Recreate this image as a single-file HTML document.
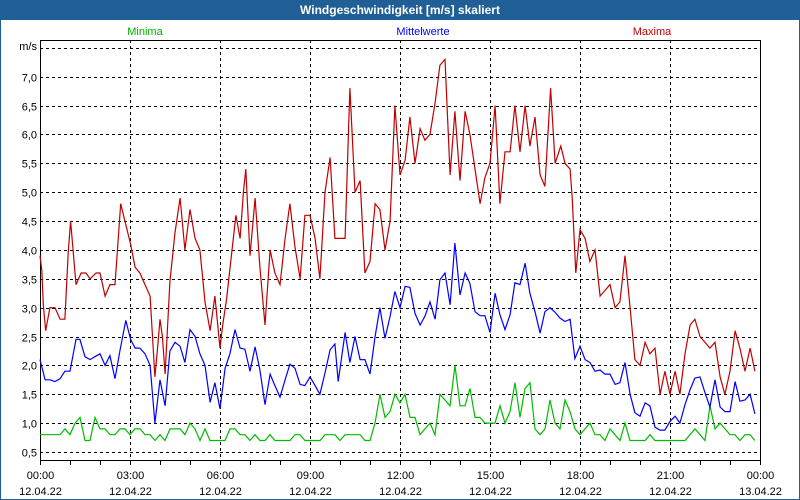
<!DOCTYPE html>
<html><head><meta charset="utf-8"><style>
html,body{margin:0;padding:0;width:800px;height:500px;overflow:hidden;background:#fff;font-family:"Liberation Sans",sans-serif}
#frame{position:absolute;left:0;top:0;width:798px;height:498px;border:1px solid #1f5f96;}
#title{position:absolute;left:0;top:0;width:800px;height:20px;background:#1f5f96;color:#fff;font-weight:bold;font-size:12px;text-align:center;line-height:20px}
svg{position:absolute;left:0;top:0}
svg text{font-family:"Liberation Sans",sans-serif;font-size:11px}
</style></head><body>
<div id="frame"></div>
<div id="title">Windgeschwindigkeit [m/s] skaliert</div>
<svg id="chart" width="800" height="500">
<text x="145" y="35" fill="#00b000" text-anchor="middle">Minima</text>
<text x="423" y="35" fill="#0000ff" text-anchor="middle">Mittelwerte</text>
<text x="652" y="35" fill="#c00000" text-anchor="middle">Maxima</text>
<text x="37" y="50" text-anchor="end" fill="#000">m/s</text>
</svg>
<script>
const yTicks=[0.5,1.0,1.5,2.0,2.5,3.0,3.5,4.0,4.5,5.0,5.5,6.0,6.5,7.0,7.5];
const yTickLabels=["0,5","1,0","1,5","2,0","2,5","3,0","3,5","4,0","4,5","5,0","5,5","6,0","6,5","7,0",""];
const xTickHours=[0,3,6,9,12,15,18,21,24];
const xTickLabels=["00:00","03:00","06:00","09:00","12:00","15:00","18:00","21:00","00:00"];
const xDateLabels=["12.04.22","12.04.22","12.04.22","12.04.22","12.04.22","12.04.22","12.04.22","12.04.22","13.04.22"];
const maxTimes=[0,0.06,0.11,0.19,0.33,0.5,0.67,0.83,0.94,1.02,1.11,1.2,1.37,1.53,1.67,1.87,2.0,2.17,2.33,2.5,2.69,2.83,3.02,3.17,3.33,3.5,3.67,3.83,3.91,4.0,4.08,4.17,4.24,4.33,4.5,4.67,4.83,5.0,5.17,5.33,5.5,5.67,5.83,6.0,6.09,6.22,6.39,6.53,6.67,6.78,6.86,7.0,7.17,7.33,7.5,7.67,7.83,8.0,8.17,8.33,8.5,8.67,8.83,9.0,9.17,9.33,9.5,9.67,9.83,10.17,10.28,10.33,10.5,10.67,10.83,11.0,11.17,11.33,11.5,11.67,11.83,12.0,12.17,12.33,12.5,12.67,12.83,13.0,13.17,13.33,13.5,13.67,13.83,14.0,14.17,14.33,14.5,14.67,14.83,15.0,15.17,15.33,15.5,15.67,15.83,16.0,16.17,16.33,16.5,16.67,16.83,17.02,17.17,17.36,17.5,17.67,17.74,17.86,18.0,18.17,18.33,18.5,18.67,19.0,19.17,19.33,19.5,19.67,19.83,20.0,20.17,20.33,20.5,20.67,20.83,21.0,21.17,21.33,21.5,21.67,21.83,22.0,22.33,22.5,22.67,22.83,23.0,23.17,23.33,23.5,23.67,23.83];
const maxValues=[3.9,3.65,3.05,2.6,3.0,3.0,2.8,2.8,3.95,4.5,3.95,3.4,3.6,3.6,3.5,3.6,3.6,3.2,3.4,3.4,4.8,4.5,4.1,3.7,3.6,3.4,3.2,1.8,2.25,2.8,2.5,1.85,2.55,3.45,4.3,4.9,4.0,4.7,4.2,4.0,3.1,2.6,3.2,2.3,2.7,3.15,3.95,4.6,4.2,5.0,5.4,3.9,4.9,3.7,2.7,4.0,3.6,3.4,4.2,4.8,4.05,3.5,4.6,4.6,4.2,3.5,5.0,5.6,4.2,4.2,6.0,6.8,5.0,5.2,3.6,3.8,4.8,4.7,4.0,4.5,6.5,5.3,5.55,6.3,5.5,6.1,5.9,6.0,6.55,7.2,7.3,5.3,6.4,5.2,6.4,6.0,5.4,4.8,5.25,5.5,6.5,4.8,5.7,5.7,6.5,5.7,6.5,5.8,6.3,5.3,5.1,6.8,5.5,5.8,5.5,5.4,4.9,3.6,4.35,4.2,3.8,4.0,3.2,3.4,3.0,3.1,3.9,3.0,2.1,2.0,2.4,2.2,2.3,1.5,1.9,1.5,1.9,1.5,2.2,2.7,2.8,2.5,2.3,2.4,1.8,1.5,1.9,2.6,2.3,1.9,2.3,1.9];
const meanTimes=[0,0.17,0.33,0.5,0.67,0.83,1.0,1.2,1.33,1.5,1.67,1.83,2.0,2.17,2.33,2.5,2.67,2.86,3.02,3.17,3.33,3.5,3.67,3.83,4.0,4.17,4.33,4.5,4.67,4.83,5.0,5.17,5.33,5.5,5.67,5.83,6.0,6.17,6.33,6.5,6.67,6.83,7.0,7.17,7.33,7.5,7.67,7.83,8.0,8.17,8.33,8.5,8.67,8.83,9.0,9.17,9.33,9.5,9.67,9.83,9.94,10.17,10.33,10.5,10.67,10.83,11.0,11.17,11.33,11.5,11.67,11.83,12.0,12.17,12.33,12.5,12.67,12.83,13.0,13.17,13.33,13.5,13.67,13.83,14.0,14.17,14.33,14.5,14.67,14.83,15.0,15.17,15.33,15.5,15.67,15.83,16.0,16.17,16.33,16.5,16.67,16.83,17.0,17.17,17.33,17.5,17.67,17.83,18.0,18.17,18.33,18.5,18.67,18.83,19.0,19.17,19.33,19.5,19.67,19.83,20.0,20.17,20.33,20.5,20.67,20.83,21.0,21.17,21.33,21.5,21.67,21.83,22.0,22.17,22.33,22.5,22.67,22.83,23.0,23.17,23.33,23.5,23.67,23.83];
const meanValues=[2.1,1.75,1.75,1.72,1.77,1.9,1.9,2.45,2.45,2.15,2.1,2.15,2.2,2.0,2.17,1.77,2.27,2.78,2.45,2.3,2.3,2.2,2.0,1.0,1.75,1.3,2.25,2.4,2.33,2.05,2.62,2.5,2.2,2.0,1.36,1.7,1.25,1.95,2.2,2.62,2.3,2.28,1.9,2.32,1.92,1.32,1.85,1.65,1.45,1.75,2.02,1.95,1.67,1.65,1.8,1.65,1.5,1.87,2.27,2.37,1.72,2.57,2.05,2.5,2.1,2.1,1.85,2.5,3.0,2.47,2.85,3.28,3.0,3.37,3.35,2.9,2.7,2.85,3.1,2.8,3.48,3.6,3.05,4.12,3.22,3.6,3.42,2.93,2.86,2.86,2.57,3.25,2.88,2.62,2.88,3.43,3.4,3.77,3.25,2.93,2.56,2.93,3.0,2.92,2.82,2.76,2.8,2.12,2.33,2.1,2.05,1.9,1.92,1.85,1.85,1.67,1.7,2.05,1.5,1.18,1.12,1.35,1.3,0.93,0.88,0.88,1.03,1.12,1.0,1.32,1.58,1.78,1.8,1.52,1.28,1.75,1.28,1.2,1.2,1.72,1.38,1.4,1.5,1.16];
const minValues=[0.8,0.8,0.8,0.8,0.8,0.9,0.8,1.0,1.1,0.7,0.7,1.1,0.9,0.9,0.8,0.8,0.9,0.9,0.8,0.9,0.9,0.8,0.8,0.7,0.8,0.7,0.9,0.9,0.9,0.8,1.0,0.9,0.7,0.9,0.7,0.7,0.7,0.7,0.9,0.9,0.8,0.8,0.7,0.8,0.7,0.7,0.8,0.7,0.7,0.7,0.7,0.8,0.8,0.7,0.7,0.7,0.7,0.8,0.8,0.8,0.7,0.8,0.8,0.8,0.8,0.7,0.7,1.0,1.5,1.1,1.2,1.5,1.35,1.5,1.1,1.1,0.8,0.9,1.0,0.8,1.5,1.4,1.3,2.0,1.3,1.3,1.6,1.1,1.1,1.0,1.0,1.0,1.3,1.0,1.2,1.7,1.1,1.6,1.7,0.9,0.8,0.9,1.4,1.0,0.9,1.4,1.2,0.9,0.8,0.9,1.0,0.8,0.8,0.7,0.9,0.8,0.7,1.0,0.7,0.7,0.7,0.7,0.8,0.7,0.7,0.7,0.7,0.7,0.7,0.7,0.8,0.9,0.8,0.7,1.3,0.9,1.0,0.9,0.8,0.8,0.7,0.8,0.8,0.7];
const minStepHours=1/6;

const L=40,R=760,T=40,B=460;
const xs=h=>L+h*(R-L)/24;
const yScale=v=>452-(v-0.5)*(452-76.7)/6.5;
const svg=document.getElementById('chart');
const NS='http://www.w3.org/2000/svg';
function mk(tag,attrs){const e=document.createElementNS(NS,tag);for(const k in attrs)e.setAttribute(k,attrs[k]);svg.appendChild(e);return e;}

yTicks.forEach((v,i)=>{
  const y=Math.round(yScale(v))+0.5;
  const g=mk('line',{x1:L,x2:R,y1:y,y2:y,stroke:'#000','stroke-dasharray':'3,3','stroke-width':1});
  
  
  if(yTickLabels[i]){
    const t=mk('text',{x:37,y:y+4,'text-anchor':'end',fill:'#000'});
    t.textContent=yTickLabels[i];
    
    
  }
});
xTickHours.forEach((h,i)=>{
  const x=Math.round(xs(h))+0.5;
  if(h>0&&h<24){
    const g=mk('line',{x1:x,x2:x,y1:T,y2:B,stroke:'#000','stroke-dasharray':'3,3','stroke-width':1});
    
    
  }
  const t=mk('text',{x:x,y:479,'text-anchor':'middle',fill:'#000'});
  t.textContent=xTickLabels[i];
  
  
  const d=mk('text',{x:x,y:495,'text-anchor':'middle',fill:'#000'});
  d.textContent=xDateLabels[i];
  
  
});
for(let h=0;h<=24;h++){
  const x=Math.round(xs(h))+0.5;
  const tk=mk('line',{x1:x,x2:x,y1:B,y2:B+5,stroke:'#000'});
  
  
}
const box=mk('rect',{x:L+0.5,y:T+0.5,width:R-L,height:B-T,fill:'none',stroke:'#000'});



function series(times,vals,color,name){
  const pts=vals.map((v,i)=>xs(times[i]).toFixed(1)+','+yScale(v).toFixed(1)).join(' ');
  const p=mk('polyline',{points:pts,fill:'none',stroke:color,'stroke-width':1.2});
  
  
}
const minTimes=minValues.map((v,i)=>i*minStepHours);
series(minTimes,minValues,'#00bb00','minima-line');
series(meanTimes,meanValues,'#0000ff','mittelwerte-line');
series(maxTimes,maxValues,'#c00000','maxima-line');
</script>
</body></html>
